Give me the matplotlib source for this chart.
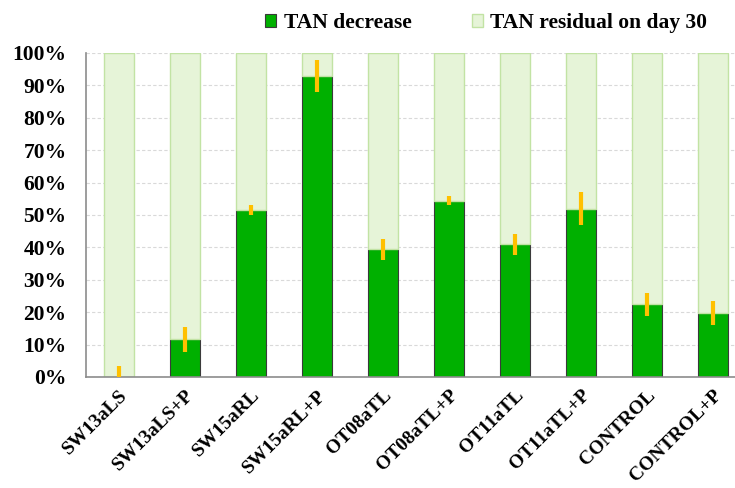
import matplotlib
matplotlib.use("Agg")
import matplotlib.pyplot as plt
from matplotlib.patches import Patch
from matplotlib.ticker import PercentFormatter, MultipleLocator

categories = ["SW13aLS", "SW13aLS+P", "SW15aRL", "SW15aRL+P", "OT08aTL",
              "OT08aTL+P", "OT11aTL", "OT11aTL+P", "CONTROL", "CONTROL+P"]
tan_decrease = [0.0, 11.6, 51.5, 92.9, 39.4, 54.4, 41.0, 51.9, 22.4, 19.8]
tan_error = [3.3, 3.9, 1.5, 4.8, 3.2, 1.4, 3.2, 5.1, 3.65, 3.7]
tan_residual = [100 - v for v in tan_decrease]

plt.rcParams['font.family'] = ['Liberation Serif', 'DejaVu Serif']
plt.rcParams['font.weight'] = 'bold'

fig = plt.figure(figsize=(7.35, 4.88), dpi=100)
ax = fig.add_axes([86/735, 1 - 377/488, 660/735, 324/488])

x = list(range(len(categories)))
w = 0.44
ax.bar(x, tan_decrease, width=w, color="#00B000", edgecolor="#3a3a3a", linewidth=0.8, zorder=2)
ax.bar(x, tan_residual, width=w, bottom=tan_decrease, color="#E6F4D8",
       edgecolor="#C2E3A4", linewidth=1.0, zorder=2)
ax.errorbar(x, tan_decrease, yerr=tan_error, fmt="none", ecolor="#FFC000",
            elinewidth=3, capsize=0, zorder=3, clip_on=True)

ax.set_xlim(-0.5, 9.5)
ax.set_ylim(0, 100)
ax.yaxis.set_major_locator(MultipleLocator(10))
ax.yaxis.set_major_formatter(PercentFormatter(decimals=0))
ax.grid(axis="y", color="#d9d9d9", linestyle=(0, (3, 2)), linewidth=0.8, zorder=0)
ax.set_axisbelow(True)

for s in ["top", "right"]:
    ax.spines[s].set_visible(False)
ax.spines["left"].set_color("#8c8c8c")
ax.spines["bottom"].set_color("#8c8c8c")
ax.spines["left"].set_linewidth(1.2)
ax.spines["bottom"].set_linewidth(1.2)

ax.set_xticks(x)
ax.set_xticklabels(categories, rotation=45, ha="right", rotation_mode="anchor",
                   fontsize=14, fontweight="bold")
ax.tick_params(axis="x", length=0, pad=7)
ax.tick_params(axis="y", length=0, pad=14, labelsize=15.5)
for lab in ax.get_yticklabels():
    lab.set_fontweight("bold")

handles = [Patch(facecolor="#00B000", edgecolor="#3a3a3a", linewidth=0.8, label="TAN decrease"),
           Patch(facecolor="#E6F4D8", edgecolor="#C2E3A4", linewidth=1.0, label="TAN residual on day 30")]
fig.legend(handles=handles, ncol=2, loc="center left", bbox_to_anchor=(265/735, 1 - 23/488),
           frameon=False, prop={"weight": "bold", "size": 15.5},
           handlelength=0.52, handleheight=0.52, handletextpad=0.35, columnspacing=2.8,
           borderpad=0, borderaxespad=0)

fig.savefig("out.png", dpi=100)
